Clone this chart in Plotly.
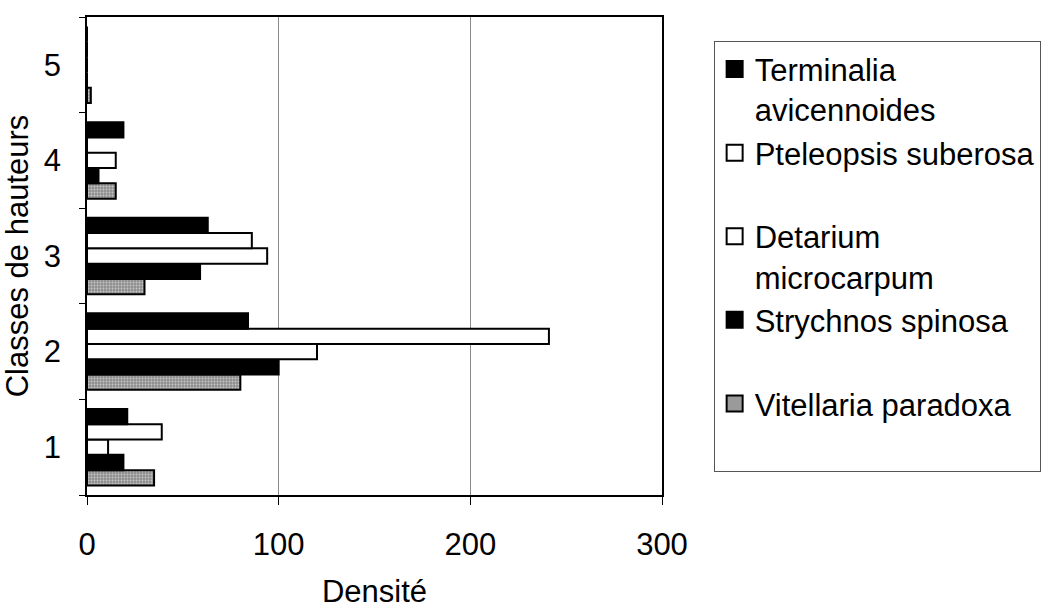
import plotly.graph_objects as go

# Height classes (categories on the vertical axis)
classes = ["1", "2", "3", "4", "5"]

# Density per height class for each species
terminalia = [21, 84, 63, 19, 0]
pteleopsis = [39, 241, 86, 0, 0]
detarium = [11, 120, 94, 15, 0]
strychnos = [19, 100, 59, 6, 0]
vitellaria = [35, 80, 30, 15, 2]

species_names = [
    "Terminalia<br>avicennoides",
    "Pteleopsis suberosa<br> ",
    "Detarium<br>microcarpum",
    "Strychnos spinosa<br> ",
    "Vitellaria paradoxa<br> ",
]

x_ticks = [0, 100, 200, 300]

FONT = "Liberation Sans, Arial, sans-serif"
FS = 31

fig = go.Figure()

# Bars are added bottom-to-top inside each group (horizontal grouping)
bar_specs = [
    (vitellaria, "#8f8f8f", True),
    (strychnos, "black", False),
    (detarium, "white", False),
    (pteleopsis, "white", False),
    (terminalia, "black", False),
]
for values, color, patterned in bar_specs:
    marker = dict(color=color, line=dict(color="black", width=2))
    if patterned:
        marker["pattern"] = dict(shape=".", fgcolor="white", bgcolor="#8f8f8f",
                                 size=3, solidity=0.3)
    fig.add_trace(go.Bar(x=values, y=classes, orientation="h",
                         marker=marker, showlegend=False))

# Legend entries with larger square keys
legend_colors = ["black", "white", "white", "black", "#9a9a9a"]
for name, color in zip(species_names, legend_colors):
    fig.add_trace(go.Scatter(
        x=[None], y=[None], mode="markers", name=name,
        marker=dict(symbol="square", size=16, color=color,
                    line=dict(color="black", width=2)),
    ))

fig.update_layout(
    width=1053, height=609,
    margin=dict(l=87, r=387, t=17, b=114),
    paper_bgcolor="white", plot_bgcolor="white",
    font=dict(family=FONT, size=FS, color="black"),
    barmode="group", bargap=0.2, bargroupgap=0,
    legend=dict(
        x=1.0898, xanchor="left", y=0.949, yanchor="top",
        bordercolor="#555555", borderwidth=1,
        valign="top", itemsizing="trace",
        font=dict(family=FONT, size=FS, color="black"),
        tracegroupgap=0,
    ),
)

fig.update_xaxes(
    range=[0, 300], tickvals=x_ticks, ticktext=[str(v) for v in x_ticks],
    showgrid=True, gridcolor="#8a8a8a", gridwidth=1,
    showline=True, linecolor="black", linewidth=1.5, mirror=True,
    ticks="outside", ticklen=8, tickcolor="black",
    zeroline=False, ticklabelstandoff=13, automargin=False,
    title=dict(text="Densité", standoff=31, font=dict(size=FS)),
)
fig.update_yaxes(
    type="category", categoryorder="array", categoryarray=classes,
    tickson="boundaries", ticks="outside", ticklen=6, tickcolor="black",
    showgrid=False, showline=True, linecolor="black", linewidth=1.5, mirror=True,
    ticklabelstandoff=18, automargin=False,
    title=dict(text="Classes de hauteurs", standoff=19, font=dict(size=FS)),
)

fig.write_html("out.html")
